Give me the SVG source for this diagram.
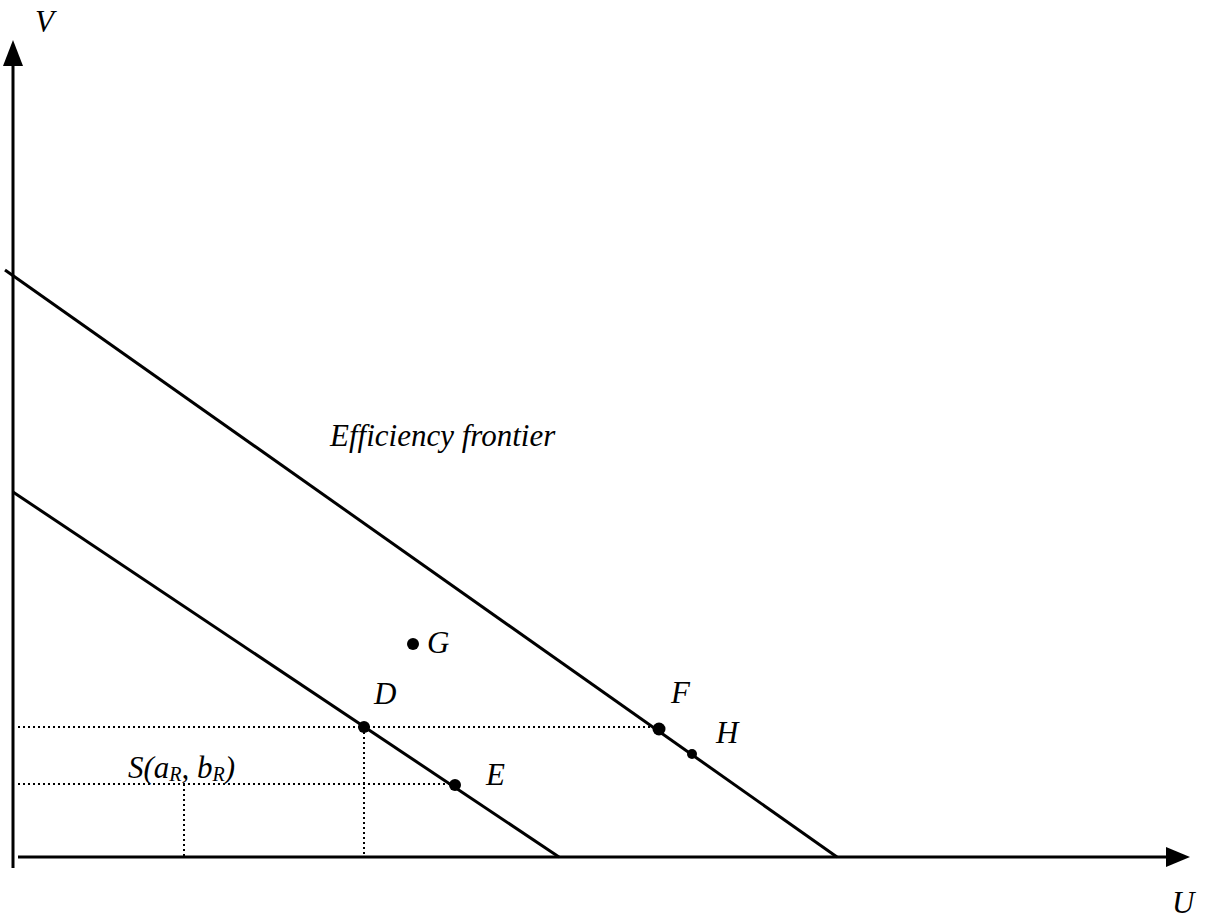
<svg xmlns="http://www.w3.org/2000/svg" width="1231" height="921" viewBox="0 0 1231 921">
<style>
.ln{stroke:#000;stroke-width:3;fill:none}
.dt{stroke:#000;stroke-width:2;stroke-dasharray:2 3;fill:none}
.t{font-family:"Liberation Serif",serif;font-style:italic;font-size:31px;fill:#000}
.s{font-size:20px}
</style>
<rect width="1231" height="921" fill="#fff"/>
<g id="axes">
<line class="ln" x1="13" y1="868" x2="13" y2="62"/>
<polygon points="13,40 3,66 23,66" fill="#000"/>
<line class="ln" x1="18" y1="857" x2="1168" y2="857"/>
<polygon points="1190,857 1166,847 1166,867" fill="#000"/>
<text class="t" x="35" y="32">V</text>
<text class="t" x="1172" y="913">U</text>
</g>
<g id="connectors">
<line class="ln" x1="5" y1="270" x2="837" y2="857"/>
<line class="ln" x1="13" y1="492" x2="559" y2="857"/>
<line class="dt" x1="18" y1="727" x2="659" y2="727"/>
<line class="dt" x1="18" y1="784" x2="452" y2="784"/>
<line class="dt" x1="364" y1="727" x2="364" y2="857"/>
<line class="dt" x1="184" y1="784" x2="184" y2="857"/>
</g>
<g id="frontier-label"><text class="t" x="330" y="446">Efficiency frontier</text></g>
<g id="G"><circle cx="413" cy="644" r="6"/><text class="t" x="427" y="653">G</text></g>
<g id="D"><circle cx="364" cy="727" r="6"/><text class="t" x="374" y="704">D</text></g>
<g id="E"><circle cx="455" cy="785" r="6"/><text class="t" x="486" y="785">E</text></g>
<g id="F"><circle cx="659" cy="729" r="6.5"/><text class="t" x="671" y="703">F</text></g>
<g id="H"><circle cx="692" cy="754" r="5"/><text class="t" x="716" y="743">H</text></g>
<g id="S"><text class="t" x="128" y="778">S(a<tspan class="s" dy="3">R</tspan><tspan dy="-3">, b</tspan><tspan class="s" dy="3">R</tspan><tspan dy="-3">)</tspan></text></g>
</svg>
